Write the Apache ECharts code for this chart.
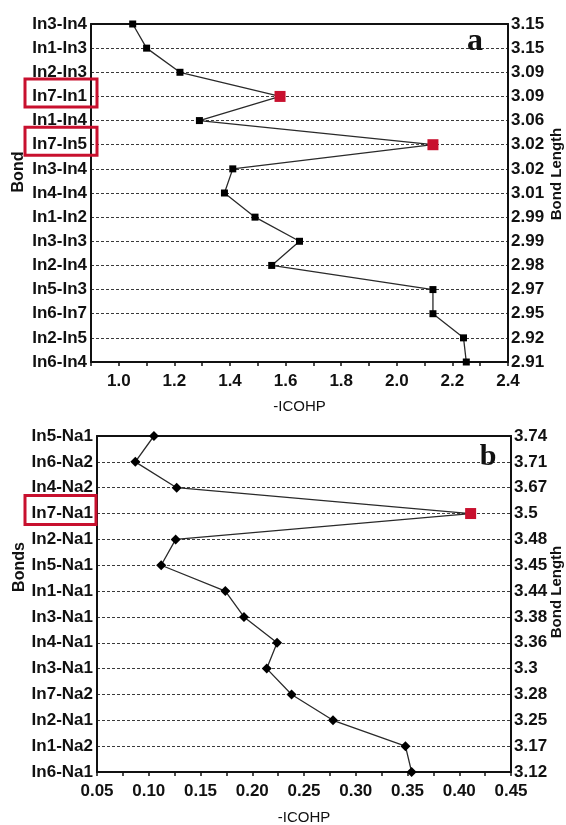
<!DOCTYPE html>
<html><head><meta charset="utf-8">
<script src="https://cdn.jsdelivr.net/npm/echarts@6/dist/echarts.min.js"></script>
<style>html,body{margin:0;padding:0;background:#fff}#c{width:566px;height:825px}</style>
</head><body><div id="c"></div>
<script>
// ---- Panel a data ----
const bondsA = ['In3-In4','In1-In3','In2-In3','In7-In1','In1-In4','In7-In5','In3-In4','In4-In4','In1-In2','In3-In3','In2-In4','In5-In3','In6-In7','In2-In5','In6-In4'];
const lengthsA = ['3.15','3.15','3.09','3.09','3.06','3.02','3.02','3.01','2.99','2.99','2.98','2.97','2.95','2.92','2.91'];
const icohpA = [1.05,1.10,1.22,1.58,1.29,2.13,1.41,1.38,1.49,1.65,1.55,2.13,2.13,2.24,2.25];
const highlightA = [3,5];
const xLabelsA = ['1.0','1.2','1.4','1.6','1.8','2.0','2.2','2.4'];

// ---- Panel b data ----
const bondsB = ['In5-Na1','In6-Na2','In4-Na2','In7-Na1','In2-Na1','In5-Na1','In1-Na1','In3-Na1','In4-Na1','In3-Na1','In7-Na2','In2-Na1','In1-Na2','In6-Na1'];
const lengthsB = ['3.74','3.71','3.67','3.5','3.48','3.45','3.44','3.38','3.36','3.3','3.28','3.25','3.17','3.12'];
const icohpB = [0.105,0.087,0.127,0.411,0.126,0.112,0.174,0.192,0.224,0.214,0.238,0.278,0.348,0.354];
const highlightB = [3];
const xLabelsB = ['0.05','0.10','0.15','0.20','0.25','0.30','0.35','0.40','0.45'];

const FONT = 'Liberation Sans, Arial, sans-serif';
const RED = '#c8102e';
const INK = '#111';
const gridA = {left:91, top:24, width:417, height:338};
const gridB = {left:97, top:436, width:414, height:336};

const chart = echarts.init(document.getElementById('c'), null, {renderer:'canvas'});

function xAxes(gi, min, max, step, fmt) {
  return [{
    gridIndex: gi, type:'value', min:min, max:max, interval:step, position:'bottom',
    axisLine:{show:true, lineStyle:{color:INK, width:2}},
    axisTick:{show:true, length:4, lineStyle:{color:INK, width:1.5}},
    axisLabel:{formatter:fmt, fontSize:17, fontWeight:'bold', color:INK, fontFamily:FONT, margin:11, showMinLabel:true, showMaxLabel:true},
    splitLine:{show:false}
  },{
    gridIndex: gi, type:'value', min:min, max:max, position:'top',
    axisLine:{show:true, lineStyle:{color:INK, width:2}},
    axisTick:{show:false}, axisLabel:{show:false}, splitLine:{show:false}
  }];
}
function yAxes(gi, bonds, lengths) {
  return [{
    gridIndex: gi, type:'category', data:bonds, inverse:true, boundaryGap:false, position:'left',
    axisLine:{show:true, lineStyle:{color:INK, width:2}},
    axisTick:{show:false},
    axisLabel:{interval:0, fontSize:17, fontWeight:'bold', color:INK, fontFamily:FONT, margin:4, padding:[0,0,7,0]},
    splitLine:{show:true, interval:0, lineStyle:{type:[3,2], color:'#3a3a3a', width:1}}
  },{
    gridIndex: gi, type:'category', data:bonds, inverse:true, boundaryGap:false, position:'right',
    axisLine:{show:true, lineStyle:{color:INK, width:2}},
    axisTick:{show:false},
    axisLabel:{interval:0, fontSize:17, fontWeight:'bold', color:INK, fontFamily:FONT, margin:3,
      formatter:function(v, i){ return lengths[i]; }},
    splitLine:{show:false}
  }];
}
function seriesData(vals, hl) {
  return vals.map(function(v, i){
    return hl.indexOf(i) >= 0 ? {value:v, symbol:'rect', symbolSize:11, itemStyle:{color:RED}} : v;
  });
}

const fmtA = function(v){ const s = v.toFixed(1); return xLabelsA.indexOf(s) >= 0 ? s : ''; };
const fmtB = function(v){ const s = v.toFixed(2); return xLabelsB.indexOf(s) >= 0 ? s : ''; };

chart.setOption({
  animation:false,
  backgroundColor:'#fff',
  grid:[gridA, gridB],
  xAxis: xAxes(0, 0.9, 2.4, 0.1, fmtA).concat(xAxes(1, 0.05, 0.45, 0.025, fmtB)),
  yAxis: yAxes(0, bondsA, lengthsA).concat(yAxes(1, bondsB, lengthsB)),
  series:[{
    type:'line', xAxisIndex:0, yAxisIndex:0, data:seriesData(icohpA, highlightA),
    symbol:'rect', symbolSize:7, itemStyle:{color:'#000'},
    lineStyle:{color:'#2a2a2a', width:1.3}, z:5
  },{
    type:'line', xAxisIndex:2, yAxisIndex:2, data:seriesData(icohpB, highlightB),
    symbol:'diamond', symbolSize:10, itemStyle:{color:'#000'},
    lineStyle:{color:'#2a2a2a', width:1.3}, z:5
  }]
});

function vtext(x, y, txt, size, weight) {
  return {type:'text', x:x, y:y, rotation:Math.PI/2, style:{text:txt, fontSize:size, fontWeight:weight, fontFamily:FONT, fill:INK, align:'center', verticalAlign:'middle'}};
}
function htext(x, y, txt, size, weight, family) {
  return {type:'text', x:x, y:y, style:{text:txt, fontSize:size, fontWeight:weight, fontFamily:family || FONT, fill:INK, align:'center', verticalAlign:'middle'}};
}
const g = [
  vtext(19, 172, 'Bond', 16, 'bold'),
  vtext(557, 174, 'Bond Length', 15, 'bold'),
  vtext(20, 567, 'Bonds', 16, 'bold'),
  vtext(557, 592, 'Bond Length', 15, 'bold'),
  htext(gridA.left + gridA.width/2, 407, '-ICOHP', 15, 'normal'),
  htext(gridB.left + gridB.width/2, 818, '-ICOHP', 15, 'normal'),
  htext(gridA.left + gridA.width - 33, 42, 'a', 32, 'bold', 'Liberation Serif, Times New Roman, serif'),
  htext(gridB.left + gridB.width - 23, 457, 'b', 30, 'bold', 'Liberation Serif, Times New Roman, serif')
];
highlightA.forEach(function(i){
  const y = chart.convertToPixel({yAxisIndex:0}, i);
  g.push({type:'rect', shape:{x:gridA.left - 66, y:y - 3.5 - 14, width:72, height:28}, style:{fill:'none', stroke:RED, lineWidth:3}, z:10});
});
highlightB.forEach(function(i){
  const y = chart.convertToPixel({yAxisIndex:2}, i);
  g.push({type:'rect', shape:{x:gridB.left - 72, y:y - 4 - 14, width:71, height:29}, style:{fill:'none', stroke:RED, lineWidth:3}, z:10});
});
chart.setOption({graphic:g});
</script>
</body></html>
